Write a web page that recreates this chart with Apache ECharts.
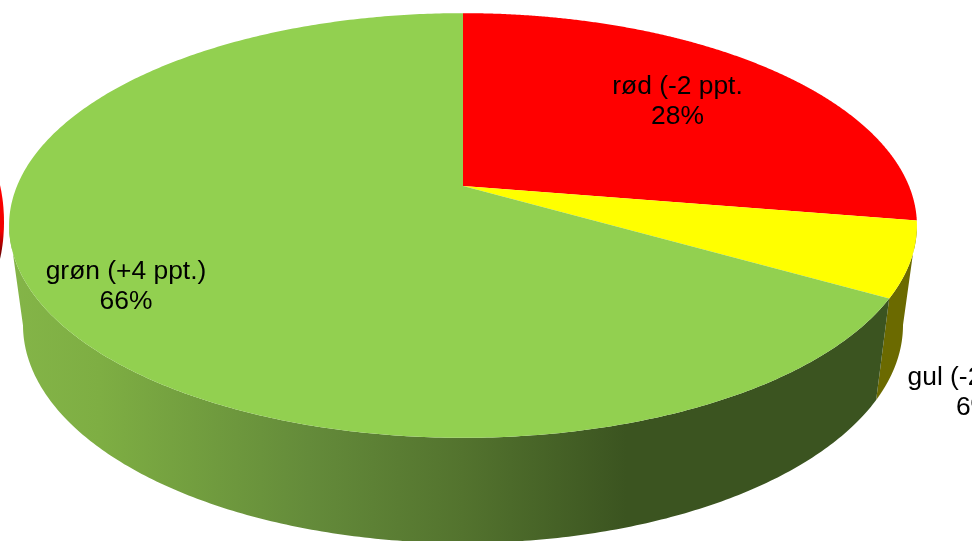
<!DOCTYPE html>
<html><head><meta charset="utf-8">
<style>html,body{margin:0;padding:0;background:#fff;overflow:hidden}#c{width:972px;height:541px}</style>
<script src="https://cdn.jsdelivr.net/npm/echarts@6/dist/echarts.min.js"></script>
</head><body><div id="c"></div>
<script>
const categories = ['rød', 'gul', 'grøn'];
const changes = ['-2 ppt.', '-2 ppt.)', '+4 ppt.)'];
const shownPercent = ['28%', '6%', '66%'];
const values = [27.6, 5.7, 66.7];
const topColors = ['#ff0000', '#ffff00', '#92d050'];

const labelPos = [[677.5, 102], [975, 393], [126, 287]];
const total = values.reduce((a, b) => a + b, 0);
const APEX = {x: 463, y: 186}, A = 446, B = 205, K = 0.186;
const TOP = {cx: 463, cy: 225.5, rx: 454, ry: 212.5};
const BOT = {cx: 463, cy: 325, rx: 440, ry: 218};

function topPoint(th) {
  const X = Math.sin(th), Y = -Math.cos(th), w = 1 - K * Y;
  return [APEX.x + A * X / w, APEX.y + B * Y / w];
}
function sliceRange(i) {
  let s = 0;
  for (let j = 0; j < i; j++) s += values[j];
  return [s / total * 2 * Math.PI, (s + values[i]) / total * 2 * Math.PI];
}
const greenWall = {
  type: 'linear', x: 9, y: 0, x2: 917, y2: 0, global: true,
  colorStops: [
    {offset: 0, color: '#84b548'},
    {offset: 0.1, color: '#7eae43'},
    {offset: 0.33, color: '#648b3a'},
    {offset: 0.5, color: '#53732e'},
    {offset: 0.68, color: '#3b5420'},
    {offset: 1, color: '#3b5420'}
  ]
};
const wallColors = ['#7a0000', '#6b6a00', greenWall];

function renderWall(params) {
  const i = params.dataIndex, [a, b] = sliceRange(i);
  const upper = [], lower = [], n = 400;
  for (let k = 0; k <= n; k++) {
    const p = topPoint(a + (b - a) * k / n);
    let phi = Math.atan2((p[0] - TOP.cx) / TOP.rx, -(p[1] - TOP.cy) / TOP.ry);
    if (phi < 0) phi += 2 * Math.PI;
    if (phi < Math.PI / 2 || phi > 1.5 * Math.PI) continue;
    upper.push(p);
    lower.push([BOT.cx + BOT.rx * Math.sin(phi), BOT.cy - BOT.ry * Math.cos(phi)]);
  }
  if (upper.length < 6) return {type: 'group', children: []};
  return {type: 'polygon', shape: {points: upper.concat(lower.reverse())},
    style: {fill: wallColors[i]}};
}
function renderTop(params) {
  const i = params.dataIndex, [a, b] = sliceRange(i);
  const pts = [[APEX.x, APEX.y]], n = 400;
  for (let k = 0; k <= n; k++) pts.push(topPoint(a + (b - a) * k / n));
  return {type: 'polygon', shape: {points: pts}, style: {fill: topColors[i]}};
}
function renderLabel(params) {
  const i = params.dataIndex;
  return {type: 'text', style: {
    text: categories[i] + ' (' + changes[i] + '\n' + shownPercent[i],
    x: labelPos[i][0], y: labelPos[i][1], fill: '#000',
    font: '26.4px "Liberation Sans", Arial, sans-serif',
    lineHeight: 30, align: 'center', verticalAlign: 'middle'
  }};
}
function renderSliver() {
  const pts = [];
  for (let k = 0; k <= 120; k++) {
    const t = k / 120 * 2 * Math.PI;
    pts.push([-36 + 40 * Math.cos(t), 222 + 85 * Math.sin(t)]);
  }
  return {type: 'polygon', shape: {points: pts}, style: {fill: {
    type: 'linear', x: 0, y: 185, x2: 0, y2: 262, global: true,
    colorStops: [{offset: 0, color: '#ff0000'}, {offset: 0.6, color: '#f00000'}, {offset: 1, color: '#4a0000'}]
  }}};
}
const seriesData = values.map((v, i) => ({name: categories[i], value: v}));
const chart = echarts.init(document.getElementById('c'), null, {renderer: 'canvas'});
chart.setOption({
  animation: false,
  backgroundColor: '#fff',
  series: [
    {type: 'custom', coordinateSystem: 'none', silent: true, data: [0], renderItem: renderSliver},
    {type: 'custom', coordinateSystem: 'none', silent: true, data: seriesData, renderItem: renderWall},
    {type: 'custom', coordinateSystem: 'none', silent: true, data: seriesData, renderItem: renderTop},
    {type: 'custom', coordinateSystem: 'none', silent: true, data: seriesData, renderItem: renderLabel}
  ]
});
</script></body></html>
